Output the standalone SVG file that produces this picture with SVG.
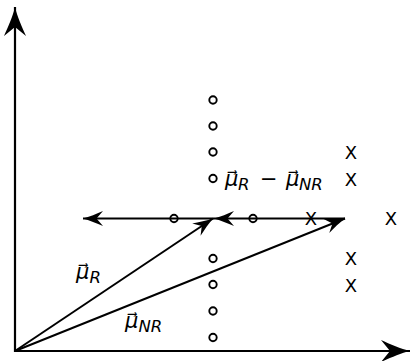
<svg xmlns="http://www.w3.org/2000/svg" width="412" height="361" viewBox="0 0 412 361">
<style>
.ax{stroke:#000;stroke-width:2.2;fill:none}
.vec{stroke:#000;stroke-width:2;fill:none}
.hl{stroke:#000;stroke-width:1.8;fill:none}
.pt{fill:none;stroke:#000;stroke-width:1.9}
.cx{font-family:"DejaVu Sans",sans-serif;font-size:18px;text-anchor:middle;fill:#000}
.lab{font-family:"DejaVu Sans",sans-serif;font-size:21px;font-style:italic;fill:#000}
.sub{font-size:16.5px}
</style>
<defs>
<marker id="big" markerUnits="userSpaceOnUse" orient="auto" overflow="visible" refX="0" refY="0" markerWidth="30" markerHeight="24">
<path d="M0,0 C-9,-2 -20,-7 -29,-11 L-20,0 L-29,11 C-20,7 -9,2 0,0 Z" fill="#000"/>
</marker>
<marker id="sm" markerUnits="userSpaceOnUse" orient="auto" overflow="visible" refX="0" refY="0" markerWidth="22" markerHeight="16">
<path d="M0,0 C-6,-1.5 -14,-5 -20,-7.5 L-13.5,0 L-20,7.5 C-14,5 -6,1.5 0,0 Z" fill="#000"/>
</marker>
</defs>
<g id="connectors">
<line id="yaxis" class="ax" x1="15" y1="352" x2="15" y2="7" marker-end="url(#big)"/>
<line id="xaxis" class="ax" x1="14" y1="351" x2="410" y2="351" marker-end="url(#big)"/>
<line id="muR" class="vec" x1="15" y1="351" x2="213" y2="218.5" marker-end="url(#sm)"/>
<line id="muNR" class="vec" x1="15" y1="351" x2="345" y2="218.5" marker-end="url(#sm)"/>
<line id="diff" class="hl" x1="345" y1="218.5" x2="214" y2="218.5" marker-end="url(#sm)"/>
<line id="ext" class="hl" x1="214" y1="218.5" x2="83" y2="218.5" marker-end="url(#sm)"/>
</g>
<g id="circles">
<circle class="pt" cx="213" cy="100" r="3.7"/>
<circle class="pt" cx="213" cy="126" r="3.7"/>
<circle class="pt" cx="213" cy="152" r="3.7"/>
<circle class="pt" cx="213" cy="178.5" r="3.7"/>
<circle class="pt" cx="213" cy="258.5" r="3.7"/>
<circle class="pt" cx="213" cy="284.5" r="3.7"/>
<circle class="pt" cx="213" cy="311" r="3.7"/>
<circle class="pt" cx="213" cy="337.5" r="3.7"/>
<circle class="pt" cx="174" cy="218.5" r="3.7"/>
<circle class="pt" cx="253" cy="218.5" r="3.7"/>
</g>
<g id="crosses">
<text class="cx" x="351" y="159">X</text>
<text class="cx" x="351" y="185.5">X</text>
<text class="cx" x="351" y="265">X</text>
<text class="cx" x="351" y="291.5">X</text>
<text class="cx" x="311" y="225">X</text>
<text class="cx" x="391" y="225">X</text>
</g>
<g id="labels">
<text id="lab-muR" class="lab" x="76" y="279">μ⃗<tspan class="sub" dy="4">R</tspan></text>
<text id="lab-muNR" class="lab" x="125" y="328">μ⃗<tspan class="sub" dy="4">NR</tspan></text>
<text id="lab-diff" class="lab" x="225" y="186">μ⃗<tspan class="sub" x="238" dy="4">R</tspan><tspan x="260" dy="-4" font-style="normal">−</tspan><tspan x="286">μ⃗</tspan><tspan class="sub" x="299" dy="4">NR</tspan></text>
</g>
</svg>
